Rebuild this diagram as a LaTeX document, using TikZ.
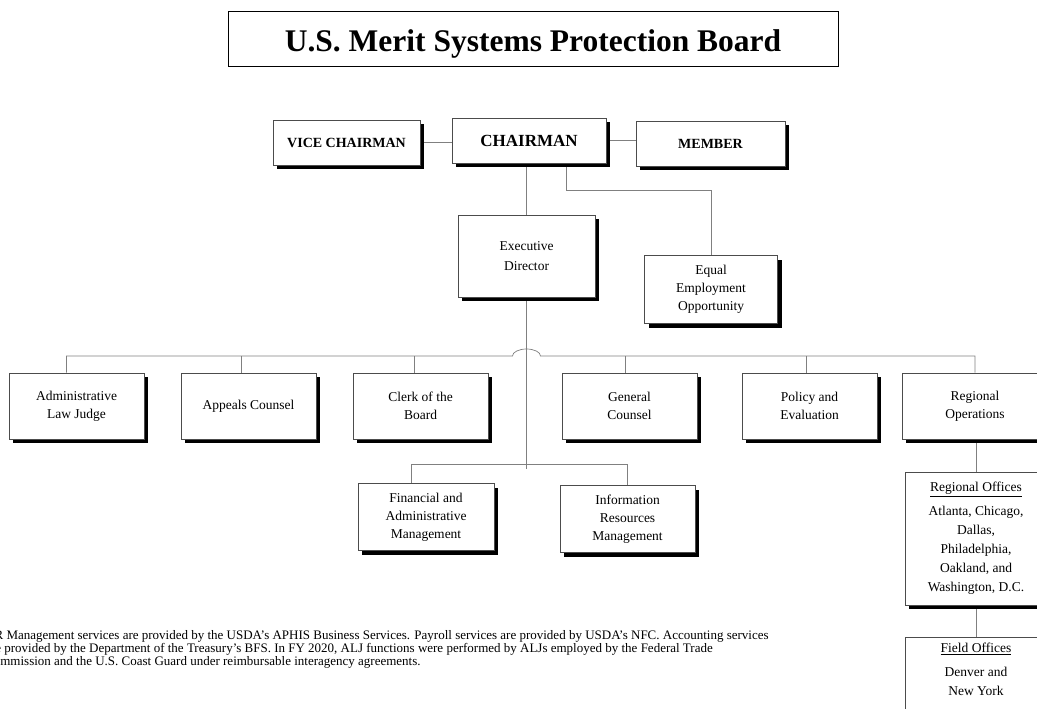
\documentclass[tikz,border=0pt]{standalone}
\usepackage{fontspec}
\setmainfont{Liberation Serif}
\usetikzlibrary{shadows,positioning,backgrounds}

\tikzset{
  orgbox/.style={draw=black!70, line width=0.6pt, fill=white, align=center, inner sep=2pt,
    drop shadow={shadow xshift=4pt, shadow yshift=-4pt, fill=black, opacity=1}},
  topbox/.style={orgbox, font=\fontsize{14}{16}\selectfont\bfseries, minimum height=45pt},
  unitbox/.style={orgbox, font=\fontsize{13.5}{18}\selectfont, minimum width=135pt, minimum height=66pt},
  link/.style={draw=black!50, line width=0.7pt},
}

\begin{document}
\begin{tikzpicture}[x=1pt, y=-1pt]
    \useasboundingbox (0,0) rectangle (1037,709);

    % Title
    \node[draw, line width=1pt, minimum width=610pt, minimum height=55pt, text height=24pt, text depth=0pt,
      font=\fontsize{31.5}{33}\selectfont\bfseries] (title) at (533,39.5) {U.S. Merit Systems Protection Board};

    % Board
    \node[topbox, minimum width=147pt] (vice) at (346.5,142.5) {VICE CHAIRMAN};
    \node[topbox, minimum width=154pt, font=\fontsize{17}{19}\selectfont\bfseries] (chair) at (529,140.5) {CHAIRMAN};
    \node[topbox, minimum width=149pt] (member) at (710.5,143.5) {MEMBER};

    % Executive Director and EEO
    \node[unitbox, minimum width=137pt, minimum height=82pt, font=\fontsize{13.5}{20}\selectfont] (exec) at (526.5,256) {Executive\\Director};
    \node[unitbox, minimum width=133pt, minimum height=68pt] (eeo) at (711,289.5) {Equal\\Employment\\Opportunity};

    % Offices
    \node[unitbox] (alj) at (76.5,406) {Administrative\\Law Judge};
    \node[unitbox] (appeals) at (248.5,406) {Appeals Counsel};
    \node[unitbox] (clerk) at (420.5,406) {Clerk of the\\Board};
    \node[unitbox] (gc) at (629.5,406) {General\\Counsel};
    \node[unitbox] (policy) at (809.5,406) {Policy and\\Evaluation};
    \node[unitbox, minimum width=146pt] (regops) at (975,406) {Regional\\Operations};

    \node[unitbox, minimum width=136pt, minimum height=67pt] (fam) at (426,517) {Financial and\\Administrative\\Management};
    \node[unitbox, minimum width=135pt, minimum height=67pt] (irm) at (627.5,519) {Information\\Resources\\Management};

    % Regional and field offices
    \node[unitbox, minimum width=142pt, minimum height=133pt, font=\fontsize{13.5}{19}\selectfont] (regoff) at (976,538.5)
      {\underline{Regional Offices}\\[5pt] Atlanta, Chicago,\\ Dallas,\\ Philadelphia,\\ Oakland, and\\ Washington, D.C.};
    \node[orgbox, minimum width=142pt, minimum height=120pt, anchor=north] (field) at (976,637) {};
    \node[align=center, anchor=north, inner sep=1pt, font=\fontsize{13.5}{19}\selectfont] (fieldtxt) at (976,642)
      {\underline{Field Offices}\\[5pt] Denver and\\ New York};

    % Connectors
    \begin{scope}[on background layer]
      \coordinate (eeoturn) at (566,190);
      \coordinate (hop) at (512.5,356);
      \coordinate (lowbus) at (0,464);
      \coordinate (lowend) at (0,469);
      \draw[link] (vice.east) -- (vice.east -| chair.west);
      \draw[link] (chair.east) -- (chair.east -| member.west);
      \draw[link] (chair.south -| exec.north) -- (exec.north);
      \draw[link] (chair.south -| eeoturn) -- (eeoturn) -| (eeo.north);
      \draw[link] (exec.south) -- (exec.south |- lowend);
      \draw[link] ([xshift=-10pt]alj.north) |- (hop)
        arc[start angle=180, end angle=0, x radius=14pt, y radius=7pt] -| (regops.north);
      \foreach \n/\dx in {appeals/-7, clerk/-6, gc/-4, policy/-3}
        \draw[link] ([xshift=\dx pt]\n.north) -- ++(0,-17);
      \draw[link] ([xshift=-15pt]fam.north) |- (irm.north |- lowbus) -- (irm.north);
      \draw[link] (regops.south -| regoff.north) -- (regoff.north);
      \draw[link] (regoff.south) -- (field.north);
    \end{scope}

    % Footnote
    \node[anchor=north west, align=left, inner sep=0pt, font=\fontsize{13}{13}\selectfont] (note) at (-15,630)
      {HR Management services are provided by the USDA’s APHIS Business Services. Payroll services are provided by USDA’s NFC. Accounting services\\
       are provided by the Department of the Treasury’s BFS. In FY 2020, ALJ functions were performed by ALJs employed by the Federal Trade\\
       Commission and the U.S. Coast Guard under reimbursable interagency agreements.};
\end{tikzpicture}
\end{document}
